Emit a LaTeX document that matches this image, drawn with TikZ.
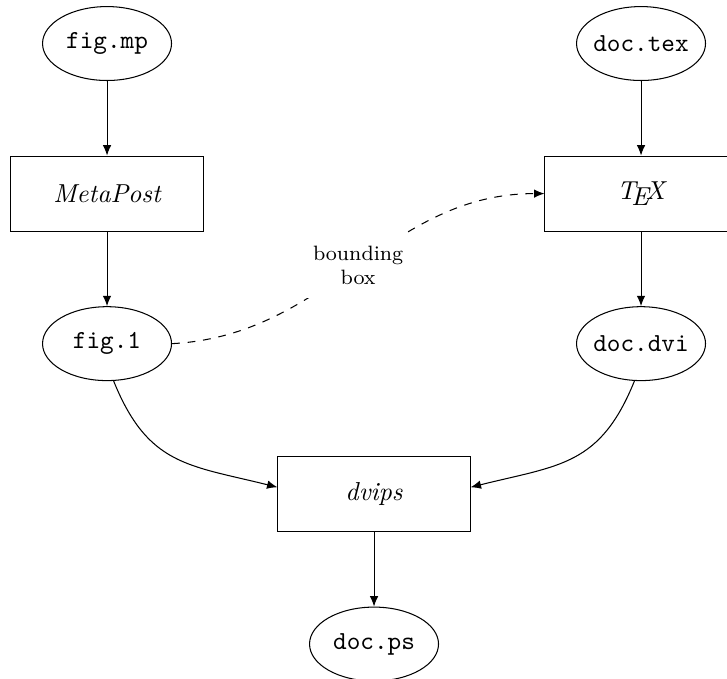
\documentclass[tikz,border=0pt]{standalone}
\usepackage{tikz}
\usetikzlibrary{arrows.meta, shapes.geometric}

\begin{document}
\begin{tikzpicture}[->, >={Latex[length=4pt, width=3.3pt]}, node distance=2.03cm,
  file/.style={ellipse, draw, minimum width=1.745cm, minimum height=1cm, inner sep=-2pt, font=\ttfamily},
  prog/.style={rectangle, draw, minimum width=2.6cm, minimum height=1.015cm, font=\itshape},
  note/.style={fill=white, inner sep=5pt, align=center, font=\footnotesize}]

  \useasboundingbox (-1.448,0.589) rectangle (8.387,-8.584);

  % Dateien und Programme
  \node[file] (figmp)  {fig.mp};
  \node[prog] (mpost)  [below of=figmp]  {MetaPost};
  \node[file] (fig1)   [below of=mpost]  {fig.1};
  \node[file] (doctex) [right of=figmp, node distance=7.224cm] {doc.tex};
  \node[prog] (tex)    [below of=doctex] {\TeX};
  \node[file] (docdvi) [below of=tex]    {doc.dvi};
  \node[prog] (dvips)  at (3.612,-6.094) {dvips};
  \node[file] (docps)  [below of=dvips]  {doc.ps};

  \path (figmp)  edge (mpost)
        (mpost)  edge (fig1)
        (doctex) edge (tex)
        (tex)    edge (docdvi)
        (fig1.-80)   edge [out=-68, in=166, looseness=1.2] (dvips.176)
        (docdvi.-100) edge [out=-112, in=14, looseness=1.2] (dvips.4)
        (dvips)  edge (docps)
        (fig1.east) edge [dashed, out=3, in=180] node[note] {bounding\\box} (tex.west);
\end{tikzpicture}
\end{document}
